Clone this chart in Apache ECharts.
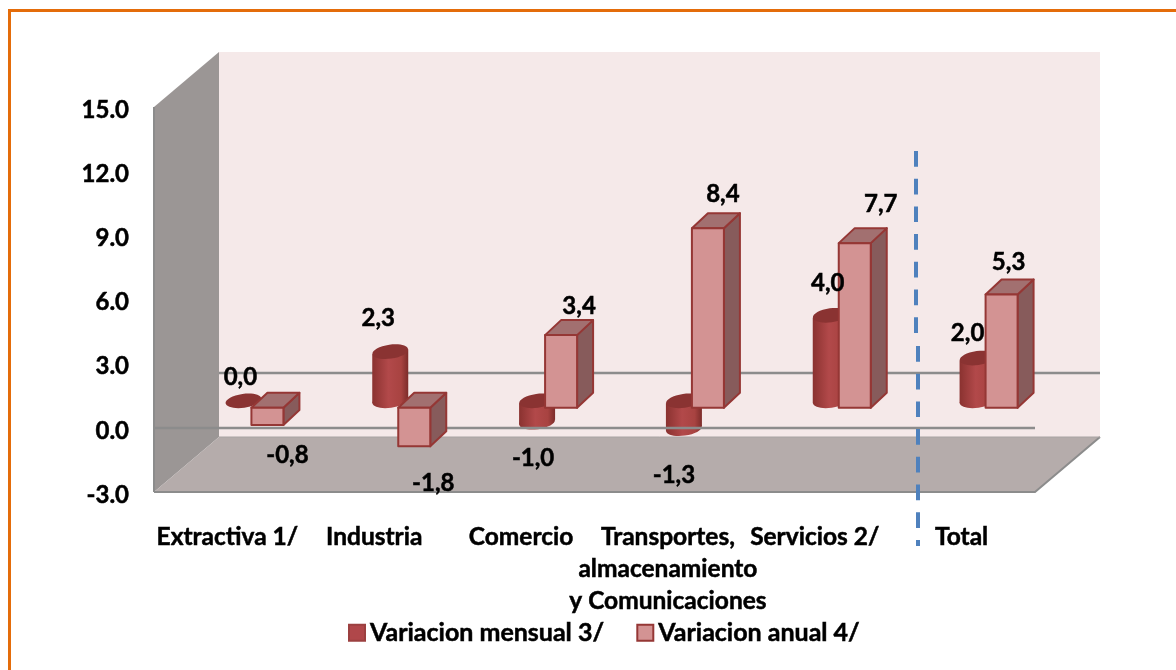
<!DOCTYPE html>
<html>
<head>
<meta charset="utf-8">
<title>Variacion mensual y anual</title>
<script src="https://cdn.jsdelivr.net/npm/echarts@6/dist/echarts.min.js"></script>
<style>
  html, body { margin: 0; padding: 0; background: #fff; }
  #chart { width: 1176px; height: 670px; }
</style>
</head>
<body>
<div id="chart"></div>
<script>
// Data
const categories = ['Extractiva 1/', 'Industria', 'Comercio', 'Transportes,\nalmacenamiento\ny Comunicaciones', 'Servicios 2/', 'Total'];
const monthly = [0.0, 2.3, -1.0, -1.3, 4.0, 2.0];
const annual = [-0.8, -1.8, 3.4, 8.4, 7.7, 5.3];
const monthlyName = 'Variacion mensual 3/';
const annualName = 'Variacion anual 4/';

// Hand placed label offsets, from the tip of each bar
const monthlyNudge = [[-3, -24], [-12, -33], [-4, 36], [-10, 47], [-3, -32], [-10, -25]];
const annualNudge = [[20, 30], [19, 37], [18, -29], [15, -34], [26, -39], [7, -32]];

const FONT = 'Lato';
const WALL_DX = 65;
const WALL_DY = 55;
// bars stand part way back on the floor
const BOX_DX = 24;
const BOX_DY = -20;
const BOX_W = 32;
const BOX_DEPTH_X = 16;
const BOX_DEPTH_Y = 15;
const CYL_DX = 16;
const CYL_DY = -27;
const CYL_RX = 18;
const CYL_RY = 7;
const TILT = 0.14;

const dark = '#953735';
const gridGray = '#8c8c8c';

function fmt(v) {
  return v.toFixed(1).replace('.', ',');
}

function labelEl(x, y, value) {
  return {
    type: 'text',
    style: {
      x: x,
      y: y,
      text: fmt(value),
      fill: '#000',
      stroke: '#000',
      lineWidth: 0.5,
      font: 'bold 24px ' + FONT,
      textAlign: 'center',
      textVerticalAlign: 'middle'
    }
  };
}

function renderWalls(params, api) {
  const g = params.coordSys;
  const l = g.x, r = g.x + g.width, t = g.y, b = g.y + g.height;
  const zero = Math.round(api.coord([0, 0])[1]);
  const edge = { stroke: gridGray, lineWidth: 2 };
  return {
    type: 'group',
    children: [
      { type: 'rect', shape: { x: l + WALL_DX, y: t - WALL_DY, width: g.width, height: g.height }, style: { fill: '#f5e9e9' } },
      { type: 'polygon', shape: { points: [[l, t], [l + WALL_DX, t - WALL_DY], [l + WALL_DX, b - WALL_DY], [l, b]] }, style: { fill: '#9b9695' } },
      { type: 'line', shape: { x1: l, y1: t, x2: l, y2: b }, style: edge },
      { type: 'polygon', shape: { points: [[l, b], [r, b], [r + WALL_DX, b - WALL_DY], [l + WALL_DX, b - WALL_DY]] }, style: { fill: '#b5acab' } },
      { type: 'polyline', shape: { points: [[l, b], [r, b], [r + WALL_DX, b - WALL_DY]] }, style: { stroke: gridGray, lineWidth: 2, fill: null } },
      { type: 'line', shape: { x1: l + WALL_DX, y1: b - WALL_DY, x2: r + WALL_DX, y2: b - WALL_DY }, style: { stroke: '#a8a3a3', lineWidth: 1 } },
      { type: 'line', shape: { x1: l + WALL_DX, y1: zero - WALL_DY, x2: r + WALL_DX, y2: zero - WALL_DY }, style: { stroke: gridGray, lineWidth: 2.5 } }
    ]
  };
}

// the front zero line crosses the cylinders but stays behind the boxes
function renderZeroLine(params, api) {
  const g = params.coordSys;
  const zero = Math.round(api.coord([0, 0])[1]);
  return {
    type: 'line',
    shape: { x1: g.x, y1: zero, x2: g.x + g.width, y2: zero },
    style: { stroke: gridGray, lineWidth: 2.5 }
  };
}

function renderCylinder(params, api) {
  const i = api.value(0);
  const base = api.coord([i, 0]);
  const tip = api.coord([i, api.value(1)]);
  const cx = base[0] + CYL_DX;
  const y0 = base[1] + CYL_DY;
  const y1 = tip[1] + CYL_DY;
  const top = Math.min(y0, y1);
  const bottom = Math.max(y0, y1);
  const lift = CYL_RX * Math.sin(TILT);
  const body = new echarts.graphic.LinearGradient(0, 0, 1, 0, [
    { offset: 0, color: '#8a3230' },
    { offset: 0.45, color: '#b2494a' },
    { offset: 0.8, color: '#a84341' },
    { offset: 1, color: '#7c2c2a' }
  ]);
  const children = [];
  if (bottom - top > 0.5) {
    children.push(
      { type: 'ellipse', shape: { cx: cx, cy: bottom, rx: CYL_RX, ry: CYL_RY }, originX: cx, originY: bottom, rotation: TILT, style: { fill: body } },
      { type: 'polygon', shape: { points: [[cx - CYL_RX, top + lift], [cx + CYL_RX, top - lift], [cx + CYL_RX, bottom - lift], [cx - CYL_RX, bottom + lift]] }, style: { fill: body } }
    );
  }
  children.push(
    { type: 'ellipse', shape: { cx: cx, cy: top, rx: CYL_RX, ry: CYL_RY }, originX: cx, originY: top, rotation: TILT, style: { fill: '#8a3332' } }
  );
  return { type: 'group', children: children };
}

function renderBox(params, api) {
  const i = api.value(0);
  const base = api.coord([i, 0]);
  const tip = api.coord([i, api.value(1)]);
  const x0 = base[0] + BOX_DX;
  const x1 = x0 + BOX_W;
  const y0 = base[1] + BOX_DY;
  const y1 = tip[1] + BOX_DY;
  const top = Math.min(y0, y1);
  const bottom = Math.max(y0, y1);
  const stroke = { stroke: dark, lineWidth: 2, lineJoin: 'round' };
  return {
    type: 'group',
    children: [
      { type: 'polygon', shape: { points: [[x1, top], [x1 + BOX_DEPTH_X, top - BOX_DEPTH_Y], [x1 + BOX_DEPTH_X, bottom - BOX_DEPTH_Y], [x1, bottom]] }, style: Object.assign({ fill: '#875b5b' }, stroke) },
      { type: 'polygon', shape: { points: [[x0, top], [x0 + BOX_DEPTH_X, top - BOX_DEPTH_Y], [x1 + BOX_DEPTH_X, top - BOX_DEPTH_Y], [x1, top]] }, style: Object.assign({ fill: '#a27070' }, stroke) },
      { type: 'rect', shape: { x: x0, y: top, width: BOX_W, height: bottom - top }, style: Object.assign({ fill: '#d39393' }, stroke) }
    ]
  };
}

// labels go above both bar series, 4,0 sits over the pink box
function renderLabels(params, api) {
  const i = api.value(0);
  const m = api.value(1);
  const a = api.value(2);
  const mTip = api.coord([i, m]);
  const aTip = api.coord([i, a]);
  return {
    type: 'group',
    children: [
      labelEl(mTip[0] + CYL_DX + monthlyNudge[i][0], mTip[1] + CYL_DY + monthlyNudge[i][1], m),
      labelEl(aTip[0] + BOX_DX + BOX_W / 2 + annualNudge[i][0], aTip[1] + BOX_DY + annualNudge[i][1], a)
    ]
  };
}

function axisText(size) {
  return {
    color: '#000',
    fontFamily: FONT,
    fontWeight: 'bold',
    fontSize: size,
    textBorderColor: '#000',
    textBorderWidth: 0.5
  };
}

const chart = echarts.init(document.getElementById('chart'), null, { renderer: 'canvas' });

chart.setOption({
  animation: false,
  backgroundColor: '#fff',
  textStyle: { fontFamily: FONT },
  grid: { left: 154, right: 141, top: 107, height: 385, containLabel: false },
  legend: {
    left: 343,
    top: 615,
    itemWidth: 16,
    itemHeight: 16,
    itemGap: 32,
    icon: 'rect',
    data: [monthlyName, annualName],
    textStyle: axisText(25)
  },
  xAxis: {
    type: 'category',
    data: categories,
    axisLine: { show: false },
    axisTick: { show: false },
    splitLine: { show: false },
    axisLabel: Object.assign({
      interval: 0,
      hideOverlap: false,
      margin: 29,
      lineHeight: 32
    }, axisText(24.5))
  },
  yAxis: {
    type: 'value',
    min: -3,
    max: 15,
    interval: 3,
    axisLine: { show: false },
    axisTick: { show: false },
    splitLine: { show: false },
    axisLabel: Object.assign({
      margin: 25,
      // short line box hung from the tick, drops the numbers about 3px
      verticalAlign: 'top',
      lineHeight: 6,
      formatter: function (v) { return v.toFixed(1); }
    }, axisText(24))
  },
  graphic: [
    // orange frame, only left and top show in the crop
    { type: 'rect', z: 100, shape: { x: 8, y: 9, width: 1168, height: 3 }, style: { fill: '#e46c0a' } },
    { type: 'rect', z: 100, shape: { x: 8, y: 9, width: 3, height: 661 }, style: { fill: '#e46c0a' } },
    // dashed divider before Total, it has a small kink
    { type: 'line', z: 100, shape: { x1: 916, y1: 151, x2: 916, y2: 336 }, style: { stroke: '#4f81bd', lineWidth: 4, lineDash: [15.7, 12] } },
    { type: 'line', z: 100, shape: { x1: 918, y1: 346, x2: 918, y2: 546 }, style: { stroke: '#4f81bd', lineWidth: 4, lineDash: [15.7, 12] } }
  ],
  series: [
    {
      type: 'custom',
      name: 'walls',
      silent: true,
      z: 1,
      renderItem: renderWalls,
      data: [[0, 0]],
      clip: false
    },
    {
      type: 'custom',
      name: monthlyName,
      z: 2,
      renderItem: renderCylinder,
      itemStyle: { color: '#b0474a', borderColor: '#9c4040', borderWidth: 1 },
      encode: { x: 0, y: 1 },
      data: monthly.map(function (v, i) { return [i, v]; }),
      clip: false
    },
    {
      type: 'custom',
      name: 'zero line',
      silent: true,
      z: 3,
      renderItem: renderZeroLine,
      data: [[0, 0]],
      clip: false
    },
    {
      type: 'custom',
      name: annualName,
      z: 4,
      renderItem: renderBox,
      itemStyle: { color: '#d39393', borderColor: dark, borderWidth: 2 },
      encode: { x: 0, y: 1 },
      data: annual.map(function (v, i) { return [i, v]; }),
      clip: false
    },
    {
      type: 'custom',
      name: 'labels',
      silent: true,
      z: 5,
      renderItem: renderLabels,
      data: categories.map(function (c, i) { return [i, monthly[i], annual[i]]; }),
      clip: false
    }
  ]
});
</script>
</body>
</html>
